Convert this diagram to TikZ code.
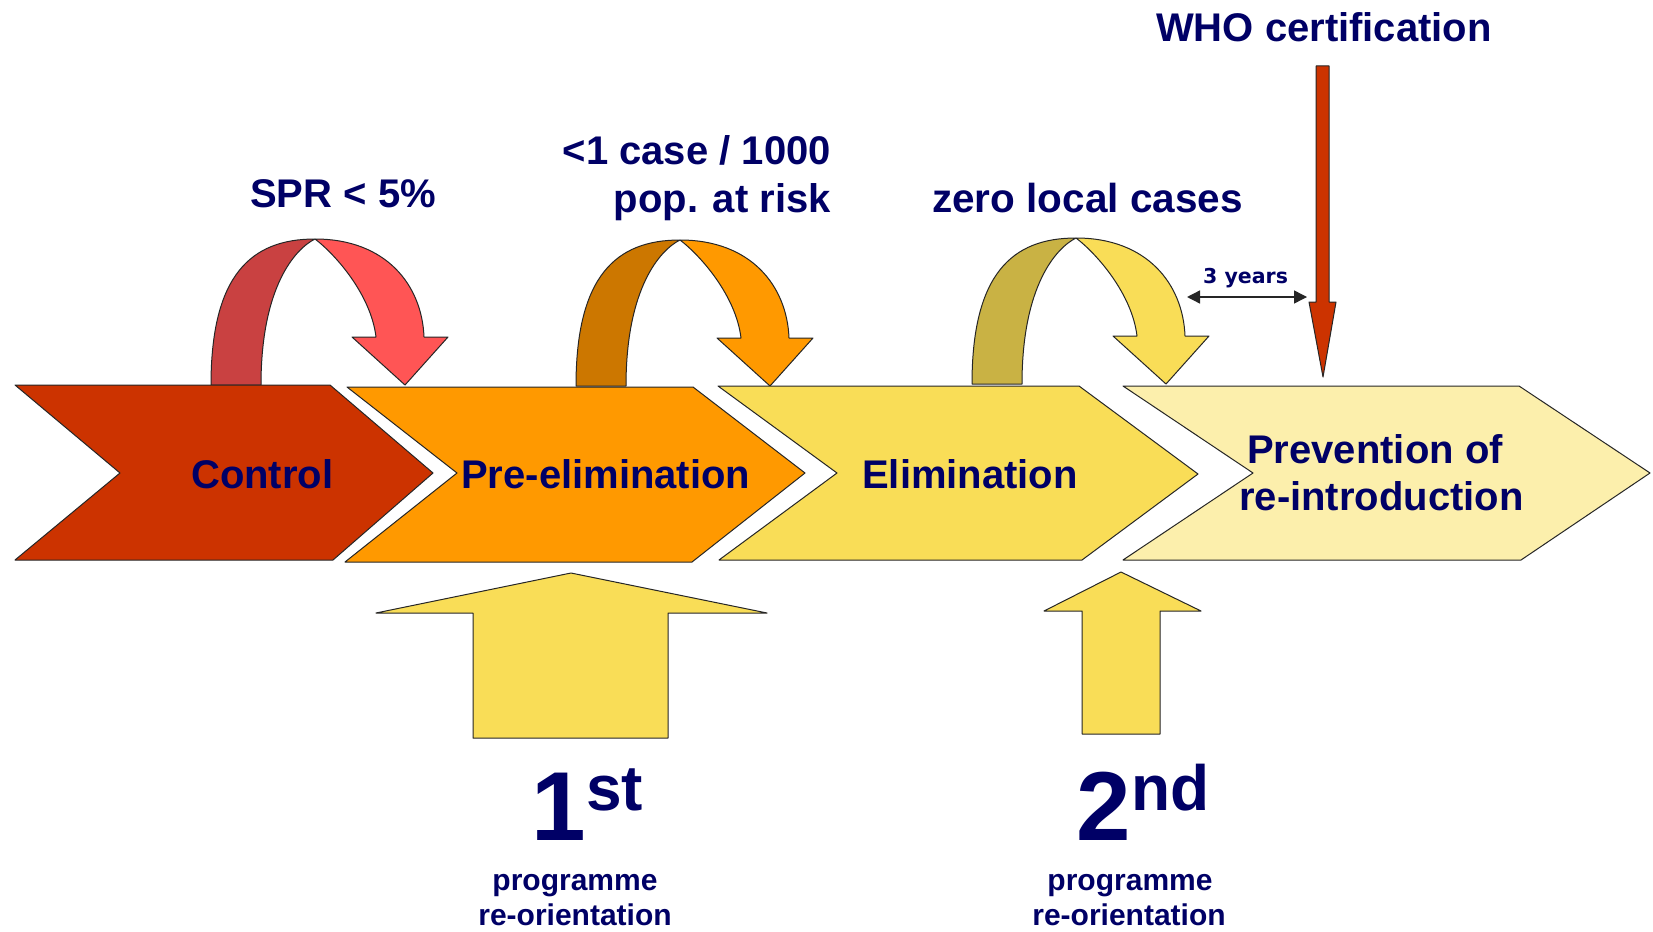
\documentclass[tikz,border=0pt]{standalone}
\usepackage{fontspec}
\setmainfont{Liberation Sans}
\newfontfamily\dvsans{DejaVu Sans}
\usetikzlibrary{arrows.meta}
\definecolor{navy}{HTML}{000066}
\definecolor{ctrl}{HTML}{CC3300}
\definecolor{pre}{HTML}{FF9900}
\definecolor{elim}{HTML}{F9DD57}
\definecolor{prev}{HTML}{FCEFAC}
\definecolor{redD}{HTML}{C94141}
\definecolor{redL}{HTML}{FF5555}
\definecolor{oraD}{HTML}{CC7700}
\definecolor{oraL}{HTML}{FF9900}
\definecolor{yelD}{HTML}{C9B244}
\definecolor{yelL}{HTML}{F9DD57}
\newcommand\fsz[1]{\fontsize{#1}{#1}\selectfont}
\newcommand\twistarrow[3]{%
  \begin{scope}[shift={#1}]
    \filldraw[fill=#2,sline] (0,0) .. controls (0,-110) and (40,-146) .. (104,-146)
      .. controls (84,-136) and (50,-98) .. (50,0) -- cycle;
    \filldraw[fill=#3,sline] (104,-146) .. controls (175,-146) and (211,-100) .. (213,-48)
      -- (237,-48) -- (194,0) -- (141,-48) -- (165,-48)
      .. controls (160,-90) and (125,-130) .. (104,-146) -- cycle;
  \end{scope}}
\tikzset{
  sline/.style={draw=black!85, line width=1pt, line join=round},
  lbl/.style={text=navy, font=\bfseries\fsz{40}, inner sep=0pt},
  small/.style={text=navy, font=\bfseries\fsz{30}, inner sep=0pt},
  dbl/.style={draw=black!85, line width=1.4pt, {Triangle[length=13pt,width=13pt]}-{Triangle[length=13pt,width=13pt]}}
}
\begin{document}
\begin{tikzpicture}[x=1pt,y=-1pt]
\fill[white] (0,0) rectangle (1653,931);
\useasboundingbox (0,0) rectangle (1653,931);

% curved twisted arrows
\twistarrow{(211,385)}{redD}{redL}
\twistarrow{(576,386)}{oraD}{oraL}
\twistarrow{(972,384)}{yelD}{yelL}

% chevrons
\filldraw[fill=ctrl,sline] (15,385) -- (330,385) -- (433,473) -- (333,560) -- (15,560) -- (120,473) -- cycle;
\filldraw[fill=pre,sline] (347,387) -- (693,387) -- (805,473) -- (692,562) -- (345,562) -- (457,473) -- cycle;
\filldraw[fill=elim,sline] (718,386) -- (1079,386) -- (1198,474) -- (1082,560) -- (719,560) -- (837,473) -- cycle;
\filldraw[fill=prev,sline] (1123,386) -- (1519,386) -- (1650,473) -- (1521,560) -- (1123,560) -- (1253,473) -- cycle;

\node[lbl, anchor=base west] (control) at (191,488) {Control};
\node[lbl, anchor=base west] (preelim) at (461,488) {Pre-elimination};
\node[lbl, anchor=base west] (elimination) at (862,488) {Elimination};
\node[lbl, anchor=base west] (prev1) at (1247,463) {Prevention of};
\node[lbl, anchor=base west] (prev2) at (1239,510) {re-introduction};

% top labels
\node[lbl, anchor=base west] (spr) at (250,207) {SPR < 5\%};
\node[lbl, anchor=base east] (case1) at (831,164) {<1 case / 1000};
\node[lbl, anchor=base east] (case2) at (831,212) {pop. at risk};
\node[lbl, anchor=base west, font=\bfseries\fsz{40.5}] (zero) at (932,212) {zero local cases};
\node[lbl, anchor=base west] (who) at (1156,42) {WHO certification};

% WHO arrow
\filldraw[fill=ctrl,sline] (1316,66) -- (1329,66) -- (1329,302) -- (1336,302) -- (1323,377)
  -- (1309,302) -- (1316,302) -- cycle;

% 3 years
\coordinate (ya) at (1187,297);
\coordinate (yb) at (1307,297);
\draw[dbl] (ya) -- (yb);
\node[text=navy, font=\dvsans\bfseries\fsz{20.5}, inner sep=0pt, anchor=base west] (years) at (1203,283) {3 years};

% up arrows
\filldraw[fill=elim,sline] (473,738) -- (473,613) -- (376,613) -- (571,573) -- (767,613)
  -- (668,613) -- (668,738) -- cycle;
\filldraw[fill=elim,sline] (1082,734) -- (1082,611) -- (1044,611) -- (1121,572) -- (1201,611)
  -- (1160,611) -- (1160,734) -- cycle;

% ordinal labels
\node[text=navy, font=\bfseries\fsz{98}, inner sep=0pt, anchor=base west] (one) at (531,840) {1};
\node[text=navy, font=\bfseries\fsz{64}, inner sep=0pt, anchor=base west] (st) at (586,810) {st};
\node[small, anchor=base] (prog1) at (575,890) {programme};
\node[small, anchor=base] (reor1) at (575,925) {re-orientation};

\node[text=navy, font=\bfseries\fsz{98}, inner sep=0pt, anchor=base west] (two) at (1076,840) {2};
\node[text=navy, font=\bfseries\fsz{64}, inner sep=0pt, anchor=base west] (nd) at (1131,810) {nd};
\node[small, anchor=base] (prog2) at (1130,890) {programme};
\node[small, anchor=base] (reor2) at (1129,925) {re-orientation};
\end{tikzpicture}
\end{document}
